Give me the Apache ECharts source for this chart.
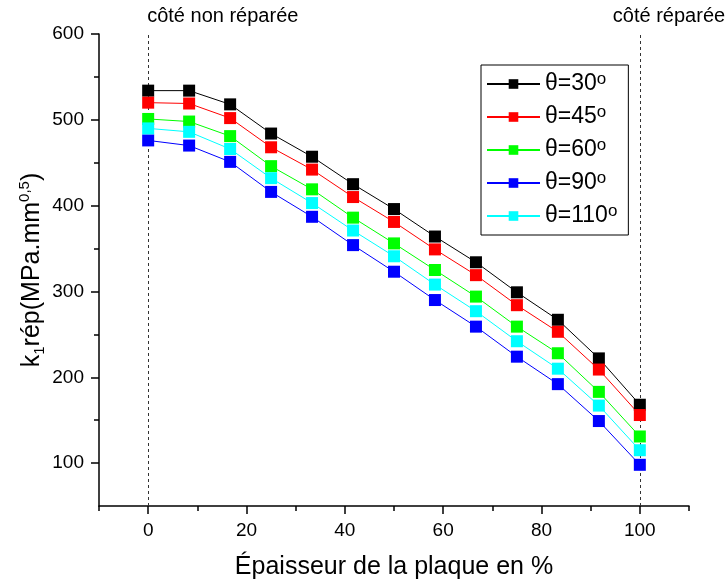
<!DOCTYPE html>
<html>
<head>
<meta charset="utf-8">
<script src="https://cdn.jsdelivr.net/npm/echarts@6/dist/echarts.min.js"></script>
<style>
html,body{margin:0;padding:0;background:#fff;}
#c{width:728px;height:585px;}
</style>
</head>
<body>
<div id="c"></div>
<script>
// Data
const xPositions = [0, 8.33, 16.67, 25, 33.33, 41.67, 50, 58.33, 66.67, 75, 83.33, 91.67, 100];
const theta30  = [534, 534, 518, 484, 457, 425, 396, 364, 334, 299, 267, 222, 168];
const theta45  = [520, 519, 502, 468, 442, 410, 381, 349, 319, 284, 253, 209, 156];
const theta60  = [501, 498, 481, 446, 419, 386, 356, 325, 294, 259, 228, 183, 131];
const theta90  = [476, 470, 451, 416, 387, 354, 323, 290, 259, 224, 192, 149, 98];
const theta110 = [490, 486, 466, 432, 403, 371, 341, 308, 277, 242, 210, 167, 115];
const seriesNames = ['θ=30', 'θ=45', 'θ=60', 'θ=90', 'θ=110'];
const xMajorTicks = [0, 20, 40, 60, 80, 100];
const xMinorTicks = [-10, 10, 30, 50, 70, 90, 110];
const yMajorTicks = [100, 200, 300, 400, 500, 600];
const yMinorTicks = [150, 250, 350, 450, 550];
const annotLeft = 'côté non réparée';
const annotRight = 'côté réparée';

const FONT = '"Liberation Sans", Arial, sans-serif';
const colors = ['#000000', '#ff0000', '#00ff00', '#0000ff', '#00ffff'];
const seriesData = [theta30, theta45, theta60, theta90, theta110];

const chart = echarts.init(document.getElementById('c'), null, {renderer: 'canvas'});

const series = seriesNames.map((name, i) => ({
  name: name,
  type: 'line',
  data: xPositions.map((x, j) => [x, seriesData[i][j]]),
  symbol: 'rect',
  symbolSize: 12,
  lineStyle: {color: colors[i], width: 1},
  itemStyle: {color: colors[i]},
  emphasis: {disabled: true},
  animation: false,
  z: 3
}));

series[0].markLine = {
  silent: true,
  symbol: ['none', 'none'],
  label: {show: false},
  lineStyle: {color: '#333', type: [3, 3], width: 1},
  data: [{xAxis: 0}, {xAxis: 100}],
  animation: false,
  z: 1
};

const axisLineStyle = {show: true, onZero: false, lineStyle: {color: '#000', width: 1.5}};

const option = {
  backgroundColor: '#fff',
  animation: false,
  grid: {left: 99, right: 39, top: 34, bottom: 78, containLabel: false},
  legend: {
    orient: 'vertical',
    left: 481, top: 65,
    padding: [6, 11, 6, 5],
    borderColor: '#000', borderWidth: 1, borderRadius: 0,
    itemWidth: 53, itemHeight: 12, itemGap: 7,
    data: seriesNames,
    formatter: n => '{t|' + n + '}{s|o}',
    textStyle: {
      color: '#000', fontFamily: FONT, fontSize: 23, lineHeight: 26,
      rich: {
        t: {fontSize: 23, fontFamily: FONT, color: '#000', lineHeight: 26},
        s: {fontSize: 17, fontFamily: FONT, color: '#000', verticalAlign: 'top', lineHeight: 8}
      }
    }
  },
  xAxis: [{
    type: 'value', min: -10, max: 110, interval: 10,
    position: 'bottom',
    axisLine: axisLineStyle,
    axisTick: {show: true, length: 8, lineStyle: {color: '#000', width: 1.5}, customValues: xMajorTicks},
    axisLabel: {color: '#000', fontSize: 19, fontFamily: FONT, margin: 15, customValues: xMajorTicks},
    splitLine: {show: false},
    name: 'Épaisseur de la plaque en %',
    nameLocation: 'middle', nameGap: 49, nameMoveOverlap: false,
    nameTextStyle: {color: '#000', fontSize: 25, fontFamily: FONT}
  }, {
    type: 'value', min: -10, max: 110, interval: 10,
    position: 'bottom',
    axisLine: {show: false, onZero: false},
    axisTick: {show: true, length: 5, lineStyle: {color: '#000', width: 1.5}, customValues: xMinorTicks},
    axisLabel: {show: false},
    splitLine: {show: false}
  }],
  yAxis: [{
    type: 'value', min: 50, max: 600, interval: 50,
    position: 'left',
    axisLine: axisLineStyle,
    axisTick: {show: true, length: 8, lineStyle: {color: '#000', width: 1.5}, customValues: yMajorTicks},
    axisLabel: {color: '#000', fontSize: 19, fontFamily: FONT, margin: 15, customValues: yMajorTicks},
    splitLine: {show: false},
    name: '{a|k}{b|1}{a|rép(MPa.mm}{c|0,5}{a|)}',
    nameLocation: 'middle', nameGap: 52, nameRotate: 90, nameMoveOverlap: false,
    nameTextStyle: {
      color: '#000', fontSize: 25, fontFamily: FONT,
      rich: {
        a: {fontSize: 25, fontFamily: FONT, color: '#000', lineHeight: 30, verticalAlign: 'middle'},
        b: {fontSize: 15, fontFamily: FONT, color: '#000', lineHeight: 15, verticalAlign: 'bottom'},
        c: {fontSize: 15, fontFamily: FONT, color: '#000', lineHeight: 15, verticalAlign: 'top'}
      }
    }
  }, {
    type: 'value', min: 50, max: 600, interval: 50,
    position: 'left',
    axisLine: {show: false, onZero: false},
    axisTick: {show: true, length: 5, lineStyle: {color: '#000', width: 1.5}, customValues: yMinorTicks},
    axisLabel: {show: false},
    splitLine: {show: false}
  }],
  series: series
};

chart.setOption(option);

// Annotations placed via axis scale
const xl = chart.convertToPixel({xAxisIndex: 0}, 0);
const xr = chart.convertToPixel({xAxisIndex: 0}, 100);
chart.setOption({
  graphic: [
    {type: 'text', left: xl - 1, top: 6, silent: true,
     style: {text: annotLeft, fill: '#000', font: '20px ' + FONT}},
    {type: 'text', left: xr - 27, top: 6, silent: true,
     style: {text: annotRight, fill: '#000', font: '20px ' + FONT}}
  ]
});
</script>
</body>
</html>
